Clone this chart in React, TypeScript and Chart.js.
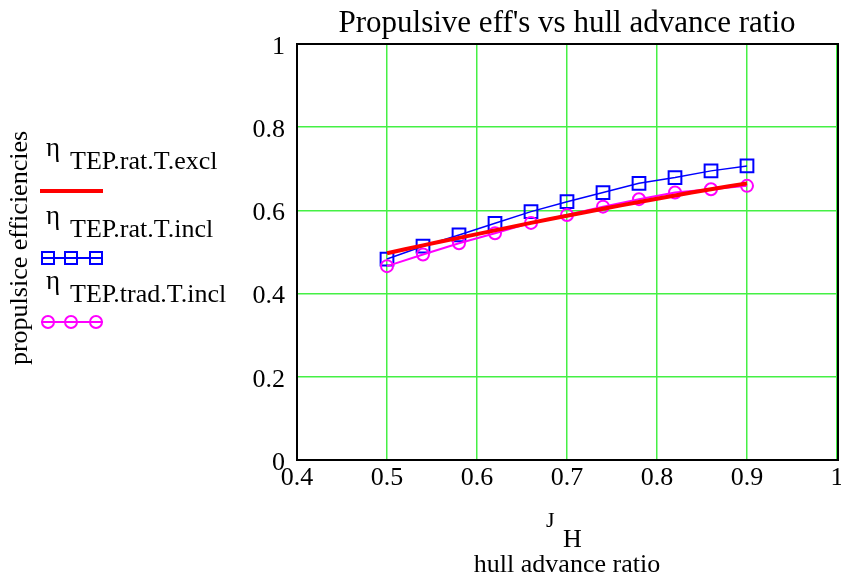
import React, { useEffect, useRef } from "react";
import { Chart, registerables } from "chart.js";
Chart.register(...registerables);

const jH = [0.5, 0.54, 0.58, 0.62, 0.66, 0.7, 0.74, 0.78, 0.82, 0.86, 0.9];
const etaRatExcl = [0.497, 0.516, 0.534, 0.552, 0.570, 0.587, 0.604, 0.620, 0.636, 0.651, 0.665];
const etaRatIncl = [0.483, 0.514, 0.541, 0.569, 0.597, 0.621, 0.643, 0.665, 0.679, 0.695, 0.707];
const etaTradIncl = [0.466, 0.494, 0.521, 0.545, 0.570, 0.589, 0.609, 0.627, 0.643, 0.651, 0.659];
const xTickValues = [0.4, 0.5, 0.6, 0.7, 0.8, 0.9, 1];

const titleText = "Propulsive eff's vs hull advance ratio";
const yAxisTitle = "propulsice efficiencies";
const xAxisSymbol = "J";
const xAxisSub = "H";
const xAxisTitle = "hull advance ratio";
const legendSymbol = "η";
const legendLabels = ["TEP.rat.T.excl", "TEP.rat.T.incl", "TEP.trad.T.incl"];

const RED = "#ff0000";
const BLUE = "#0000ff";
const MAG = "#ff00ff";
const GRID = "#44f044";
const FONT = "'Liberation Serif', 'DejaVu Serif', serif";

const toPts = (ys: number[]) => jH.map((x, i) => ({ x, y: ys[i] }));
const fmt = (v: any) => String(Number(Number(v).toFixed(2)));

const decor = {
  id: "decor",
  afterDraw(chart: any) {
    const ctx = chart.ctx as CanvasRenderingContext2D;
    const a = chart.chartArea;
    const xs = chart.scales.x;
    ctx.save();
    ctx.strokeStyle = "#000";
    ctx.lineWidth = 2;
    ctx.beginPath();
    ctx.moveTo(a.left, a.bottom);
    ctx.lineTo(a.left, a.top);
    ctx.lineTo(a.right + 1, a.top);
    ctx.lineTo(a.right + 1, a.bottom);
    ctx.closePath();
    ctx.stroke();

    ctx.fillStyle = "#000";
    ctx.textBaseline = "alphabetic";
    ctx.font = `26px ${FONT}`;
    ctx.textAlign = "center";
    xTickValues.forEach((v) => {
      ctx.fillText(fmt(v), xs.getPixelForValue(v), a.bottom + 25);
    });

    ctx.font = `31px ${FONT}`;
    ctx.fillText(titleText, (a.left + a.right) / 2, 32);

    const cx = (a.left + a.right) / 2;
    ctx.font = `22px ${FONT}`;
    ctx.textAlign = "left";
    ctx.fillText(xAxisSymbol, 546, 527);
    ctx.font = `26px ${FONT}`;
    ctx.fillText(xAxisSub, 563, 547);
    ctx.textAlign = "center";
    ctx.fillText(xAxisTitle, cx, 572);

    ctx.save();
    ctx.translate(27, 248);
    ctx.rotate(-Math.PI / 2);
    ctx.textAlign = "center";
    ctx.font = `26px ${FONT}`;
    ctx.fillText(yAxisTitle, 0, 0);
    ctx.restore();

    const rows = [
      { sy: 156, ty: 169, ly: 191, color: RED, kind: "line" },
      { sy: 224, ty: 237, ly: 258, color: BLUE, kind: "rect" },
      { sy: 289, ty: 302, ly: 322, color: MAG, kind: "circle" },
    ];
    rows.forEach((r, i) => {
      ctx.fillStyle = "#000";
      ctx.textAlign = "left";
      ctx.font = `27px ${FONT}`;
      ctx.fillText(legendSymbol, 46, r.sy);
      ctx.font = `26px ${FONT}`;
      ctx.fillText(legendLabels[i], 70, r.ty);
      ctx.strokeStyle = r.color;
      if (r.kind === "line") {
        ctx.lineWidth = 4;
        ctx.beginPath();
        ctx.moveTo(40, r.ly);
        ctx.lineTo(103, r.ly);
        ctx.stroke();
      } else {
        ctx.lineWidth = 2;
        ctx.beginPath();
        ctx.moveTo(41, r.ly);
        ctx.lineTo(103, r.ly);
        ctx.stroke();
        [48, 71, 96].forEach((mx) => {
          ctx.beginPath();
          if (r.kind === "rect") ctx.rect(mx - 6, r.ly - 6, 12, 12);
          else ctx.arc(mx, r.ly, 6, 0, Math.PI * 2);
          ctx.stroke();
        });
      }
    });
    ctx.restore();
  },
};

export default function App() {
  const ref = useRef<HTMLCanvasElement>(null);
  useEffect(() => {
    const chart = new Chart(ref.current!, {
      type: "line",
      data: {
        datasets: [
          {
            label: legendLabels[0],
            data: toPts(etaRatExcl),
            borderColor: RED,
            borderWidth: 4,
            pointRadius: 0,
            tension: 0.3,
          },
          {
            label: legendLabels[2],
            data: toPts(etaTradIncl),
            borderColor: MAG,
            borderWidth: 2,
            pointStyle: "circle",
            pointRadius: 6,
            pointBorderWidth: 2,
            pointBackgroundColor: "transparent",
            pointBorderColor: MAG,
          },
          {
            label: legendLabels[1],
            data: toPts(etaRatIncl),
            borderColor: BLUE,
            borderWidth: 1.5,
            pointStyle: "rect",
            pointRadius: 9,
            pointBorderWidth: 2,
            pointBackgroundColor: "transparent",
            pointBorderColor: BLUE,
          },
        ],
      },
      options: {
        responsive: false,
        animation: false,
        layout: { autoPadding: false, padding: { left: 0, right: 4, top: 44, bottom: 0 } },
        plugins: { legend: { display: false }, title: { display: false }, tooltip: { enabled: false } },
        scales: {
          x: {
            type: "linear",
            min: 0.4,
            max: 1,
            ticks: { stepSize: 0.1, display: false },
            grid: { color: GRID, lineWidth: 1.5, drawTicks: false },
            border: { display: false },
            afterFit: (s: any) => { s.height = 121; },
          },
          y: {
            min: 0,
            max: 1,
            ticks: { stepSize: 0.2, color: "#000", font: { family: FONT, size: 26 }, padding: 12, labelOffset: 3, callback: fmt },
            grid: { color: GRID, lineWidth: 1.5, drawTicks: false },
            border: { display: false },
            afterFit: (s: any) => { s.width = 297; },
          },
        },
      },
      plugins: [decor],
    });
    return () => chart.destroy();
  }, []);
  return (
    <div style={{ position: "fixed", left: 0, top: 0, width: 841, height: 581, background: "#fff" }}>
      <canvas ref={ref} width={841} height={581} style={{ display: "block" }} />
    </div>
  );
}
